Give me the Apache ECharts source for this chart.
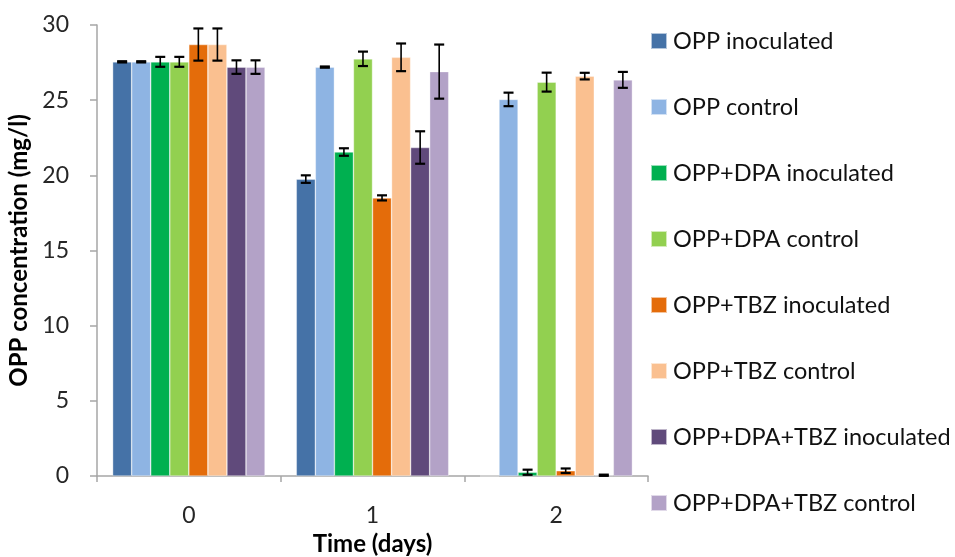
<!DOCTYPE html>
<html>
<head>
<meta charset="utf-8">
<script src="https://cdn.jsdelivr.net/npm/echarts@6/dist/echarts.min.js"></script>
<style>html,body{margin:0;padding:0;background:#fff}#c{width:955px;height:557px}</style>
</head>
<body>
<div id="c"></div>
<script>
var categories = ['0', '1', '2'];
var seriesNames = ['OPP inoculated', 'OPP control', 'OPP+DPA inoculated', 'OPP+DPA control',
  'OPP+TBZ inoculated', 'OPP+TBZ control', 'OPP+DPA+TBZ inoculated', 'OPP+DPA+TBZ control'];
var colors = ['#4572A7', '#8EB4E3', '#00B050', '#92D050', '#E46C0A', '#FAC090', '#604A7B', '#B3A2C7'];

var oppInoc = [27.55, 19.75, 0];
var oppCtrl = [27.55, 27.2, 25.05];
var dpaInoc = [27.55, 21.55, 0.25];
var dpaCtrl = [27.55, 27.75, 26.2];
var tbzInoc = [28.7, 18.5, 0.35];
var tbzCtrl = [28.7, 27.85, 26.6];
var dtInoc = [27.2, 21.85, 0.05];
var dtCtrl = [27.2, 26.9, 26.35];

var oppInocErr = [0.04, 0.25, null];
var oppCtrlErr = [0.04, 0.04, 0.45];
var dpaInocErr = [0.33, 0.25, 0.17];
var dpaCtrlErr = [0.33, 0.48, 0.63];
var tbzInocErr = [1.07, 0.17, 0.15];
var tbzCtrlErr = [1.07, 0.92, 0.22];
var dtInocErr = [0.45, 1.08, 0.04];
var dtCtrlErr = [0.45, 1.8, 0.53];

var yTicks = [0, 5, 10, 15, 20, 25, 30];

var values = [oppInoc, oppCtrl, dpaInoc, dpaCtrl, tbzInoc, tbzCtrl, dtInoc, dtCtrl];
var errors = [oppInocErr, oppCtrlErr, dpaInocErr, dpaCtrlErr, tbzInocErr, tbzCtrlErr, dtInocErr, dtCtrlErr];
var catGap = 0.17;

var FONT = 'Lato, "Open Sans", sans-serif';

var series = values.map(function (v, i) {
  return {
    name: seriesNames[i], type: 'bar', data: v,
    barGap: '0%', barCategoryGap: (catGap * 100) + '%',
    itemStyle: { color: colors[i], borderColor: 'rgba(255,255,255,0.6)', borderWidth: 0.6 },
    silent: true
  };
});

var errData = [];
errors.forEach(function (e, si) {
  e.forEach(function (val, ci) {
    if (val !== null && values[si][ci] !== null) errData.push([ci, si, values[si][ci], val]);
  });
});

series.push({
  type: 'custom', name: 'err', silent: true, z: 10,
  encode: { x: 0, y: 2 },
  data: errData,
  renderItem: function (params, api) {
    var ci = api.value(0), si = api.value(1), m = api.value(2), e = api.value(3);
    var bandW = api.size([1, 0])[0];
    var bw = bandW * (1 - catGap) / 8;
    var c = api.coord([ci, m]);
    var x = c[0] + (si - 3.5) * bw;
    var top = api.coord([ci, m + e])[1];
    var bot = api.coord([ci, Math.max(0, m - e)])[1];
    var cap = 5;
    var st = { stroke: '#000', lineWidth: 1.6 };
    return {
      type: 'group',
      children: [
        { type: 'line', shape: { x1: x, y1: top, x2: x, y2: bot }, style: st },
        { type: 'line', shape: { x1: x - cap, y1: top, x2: x + cap, y2: top }, style: { stroke: '#000', lineWidth: 2.2 } },
        { type: 'line', shape: { x1: x - cap, y1: bot, x2: x + cap, y2: bot }, style: { stroke: '#000', lineWidth: 2.2 } }
      ]
    };
  }
});

var chart = echarts.init(document.getElementById('c'), null, { renderer: 'canvas' });
chart.setOption({
  animation: false,
  backgroundColor: '#fff',
  grid: { left: 97, right: 307, top: 25, bottom: 81, containLabel: false, outerBoundsMode: 'none' },
  legend: {
    orient: 'vertical', left: 650, top: 29, padding: 0,
    data: seriesNames,
    itemWidth: 16, itemHeight: 16, itemGap: 42,
    icon: 'rect',
    textStyle: { fontFamily: FONT, fontSize: 23.5, lineHeight: 24, color: '#111', padding: [0, 0, 0, 1] },
    selectedMode: false
  },
  xAxis: {
    type: 'category', data: categories,
    name: 'Time (days)', nameLocation: 'middle', nameGap: 56,
    nameTextStyle: { fontFamily: FONT, fontSize: 24, fontWeight: 'bold', color: '#000' },
    axisLine: { lineStyle: { color: '#A6A6A6', width: 1.5 } },
    axisTick: { show: true, alignWithLabel: false, length: 6, lineStyle: { color: '#A6A6A6', width: 1.5 } },
    axisLabel: { fontFamily: FONT, fontSize: 23, color: '#262626', margin: 28 }
  },
  yAxis: {
    type: 'value', min: yTicks[0], max: yTicks[yTicks.length - 1], interval: 5,
    name: 'OPP concentration (mg/l)', nameLocation: 'middle', nameGap: 57, nameRotate: 90,
    nameTextStyle: { fontFamily: FONT, fontSize: 24, fontWeight: 'bold', color: '#000' },
    axisLine: { show: true, lineStyle: { color: '#A6A6A6', width: 1.5 } },
    axisTick: { show: true, length: 7, lineStyle: { color: '#A6A6A6', width: 1.5 } },
    splitLine: { show: false },
    axisLabel: { fontFamily: FONT, fontSize: 23, color: '#262626', margin: 28 }
  },
  series: series
});
</script>
</body>
</html>
